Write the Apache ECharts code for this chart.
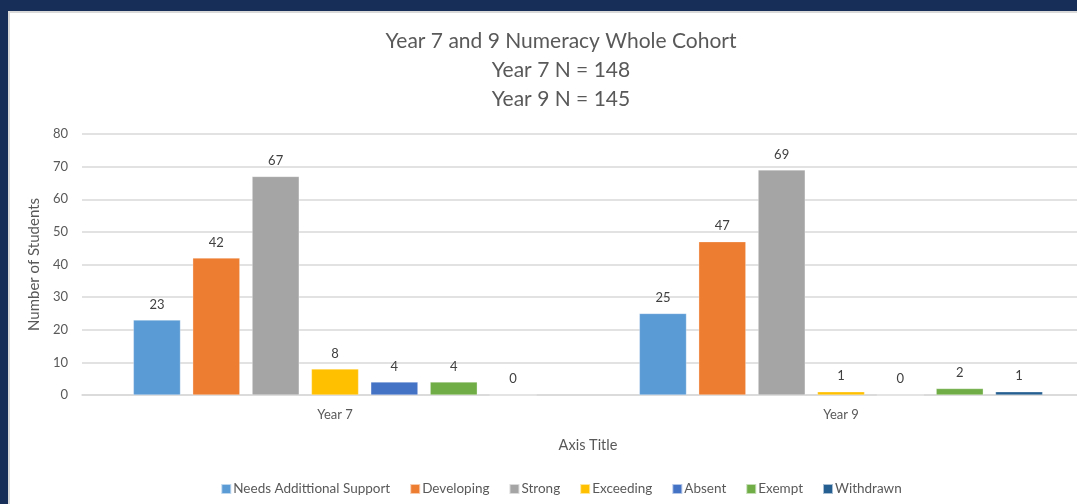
<!DOCTYPE html>
<html>
<head>
    <meta charset="utf-8">
    <title>Numeracy</title>
    <script src="https://cdn.jsdelivr.net/npm/echarts@6/dist/echarts.min.js"></script>
    <style>
        html, body { margin: 0; padding: 0; overflow: hidden; background: #172f58; width: 1077px; height: 504px; }
        #wrap { position: absolute; left: 8px; top: 11px; border-left: 2px solid #d9d9d9; border-top: 2px solid #d9d9d9; background: #fff; }
        #main { width: 1102px; height: 491px; }
    </style>
</head>
<body>
<div id="wrap"><div id="main"></div></div>
<script type="text/javascript">
    var categories = ['Year 7', 'Year 9'];
    var seriesNames = ['Needs Addittional Support', 'Developing', 'Strong', 'Exceeding', 'Absent', 'Exempt', 'Withdrawn'];
    var needsSupport = [23, 25];
    var developing = [42, 47];
    var strong = [67, 69];
    var exceeding = [8, 1];
    var absent = [4, 0];
    var exempt = [4, 2];
    var withdrawn = [0, 1];
    var yTicks = { min: 0, max: 80, interval: 10 };

    var values = [needsSupport, developing, strong, exceeding, absent, exempt, withdrawn];
    var colors = ['#5b9bd5', '#ed7d31', '#a5a5a5', '#ffc000', '#4472c4', '#70ad47', '#255e91'];
    var font = 'Lato, "Open Sans", sans-serif';

    var myChart = echarts.init(document.getElementById('main'));

    var series = seriesNames.map(function (name, i) {
        return {
            name: name,
            type: 'bar',
            data: values[i],
            barGap: '26%',
            barCategoryGap: '20.3%',
            itemStyle: { color: colors[i], borderColor: 'rgba(255,255,255,0.6)', borderWidth: 0.5 },
            label: {
                show: true,
                position: 'top',
                distance: 9,
                color: '#404040',
                fontSize: 13,
                fontFamily: font
            }
        };
    });

    var option = {
        backgroundColor: '#ffffff',
        animation: false,
        color: colors,
        title: {
            text: 'Year 7 and 9 Numeracy Whole Cohort\nYear 7 N = 148\nYear 9 N = 145',
            left: 'center',
            top: 9,
            textStyle: {
                fontFamily: font,
                fontWeight: 'normal',
                fontSize: 21,
                lineHeight: 29,
                color: '#595959'
            }
        },
        legend: {
            data: seriesNames,
            left: 'center',
            top: 464,
            icon: 'rect',
            itemWidth: 10,
            itemHeight: 10,
            itemGap: 19,
            textStyle: { fontFamily: font, fontSize: 13.5, color: '#595959', padding: [0, 0, 0, -3] }
        },
        grid: { left: 72, right: 18, top: 121, bottom: 109, containLabel: false },
        xAxis: {
            type: 'category',
            data: categories,
            name: 'Axis Title',
            nameLocation: 'middle',
            nameGap: 43,
            nameTextStyle: { fontFamily: font, fontSize: 14.5, color: '#595959' },
            axisLine: { lineStyle: { color: '#d9d9d9', width: 1.5 } },
            axisTick: { show: false },
            axisLabel: { fontFamily: font, fontSize: 13, color: '#595959', margin: 13 }
        },
        yAxis: {
            type: 'value',
            min: yTicks.min,
            max: yTicks.max,
            interval: yTicks.interval,
            name: 'Number of Students',
            nameLocation: 'middle',
            nameGap: 36,
            nameRotate: 90,
            nameTextStyle: { fontFamily: font, fontSize: 15, color: '#595959' },
            axisLine: { show: false },
            axisTick: { show: false },
            axisLabel: { fontFamily: font, fontSize: 13, color: '#595959', margin: 14 },
            splitLine: { lineStyle: { color: '#d9d9d9', width: 1.5 } }
        },
        series: series
    };

    myChart.setOption(option);
</script>
</body>
</html>
